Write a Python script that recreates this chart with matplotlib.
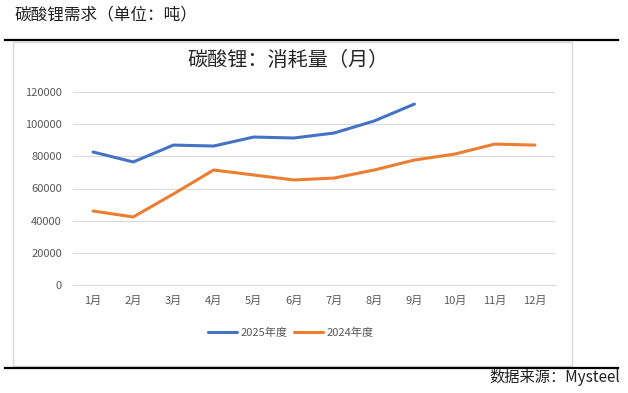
import matplotlib.pyplot as plt
from matplotlib.patches import Rectangle
from matplotlib.lines import Line2D

plt.rcParams["font.family"] = ["Noto Sans CJK SC", "DejaVu Sans"]

months = ["1月", "2月", "3月", "4月", "5月", "6月", "7月", "8月", "9月", "10月", "11月", "12月"]
y2025 = [82700, 76500, 87000, 86400, 92000, 91400, 94500, 102000, 112500]
y2024 = [46000, 42300, 56600, 71500, 68400, 65300, 66500, 71500, 77700, 81400, 87600, 87000]
yticks = [0, 20000, 40000, 60000, 80000, 100000, 120000]

W, H = 628, 393
fig = plt.figure(figsize=(W / 100, H / 100), dpi=100)


def fx(px):
    return px / W


def fy(py):
    return 1 - py / H


# header and frame
fig.text(fx(14), fy(15), "碳酸锂需求（单位：吨）", fontsize=12, color="#222222", va="center")
fig.add_artist(Line2D([fx(5), fx(618)], [fy(40), fy(40)], color="black", lw=1.6, zorder=-1))
fig.add_artist(Line2D([fx(5), fx(618)], [fy(368), fy(368)], color="black", lw=1.6, zorder=-1))
fig.add_artist(Rectangle((fx(13), fy(366)), fx(572) - fx(13), fy(42) - fy(366),
                         facecolor="white", edgecolor="#d9d9d9", lw=1, zorder=-2))
fig.text(fx(288), fy(60), "碳酸锂：消耗量（月）", fontsize=14.5, color="#262626",
         ha="center", va="center")
fig.text(fx(620), fy(378), "数据来源：Mysteel", fontsize=11, color="#222222", ha="right", va="center")

ax = fig.add_axes([fx(73), fy(285), fx(555) - fx(73), fy(92) - fy(285)])
ax.patch.set_alpha(0)
x = list(range(1, 13))
ax.plot(x[:len(y2025)], y2025, color="#4472c4", lw=2.2, label="2025年度", solid_capstyle="round")
ax.plot(x, y2024, color="#ed7d31", lw=2.2, label="2024年度", solid_capstyle="round")

ax.set_xlim(0.5, 12.5)
ax.set_ylim(0, 120000)
ax.set_yticks(yticks)
ax.set_yticklabels([str(v) for v in yticks])
ax.set_xticks(x)
ax.set_xticklabels(months)
ax.grid(axis="y", color="#d9d9d9", lw=0.8)
ax.set_axisbelow(True)
for s in ["top", "right", "left"]:
    ax.spines[s].set_visible(False)
ax.spines["bottom"].set_color("#d9d9d9")
ax.tick_params(axis="both", length=0, labelsize=8, labelcolor="#595959")
ax.tick_params(axis="x", pad=8)
ax.tick_params(axis="y", pad=8)

fig.legend(loc="center", bbox_to_anchor=(fx(291), fy(333)), ncol=2, frameon=False,
           fontsize=8, labelcolor="#595959", handlelength=2.6, columnspacing=0.6,
           handletextpad=0.3)

fig.savefig("out.png", dpi=100)
